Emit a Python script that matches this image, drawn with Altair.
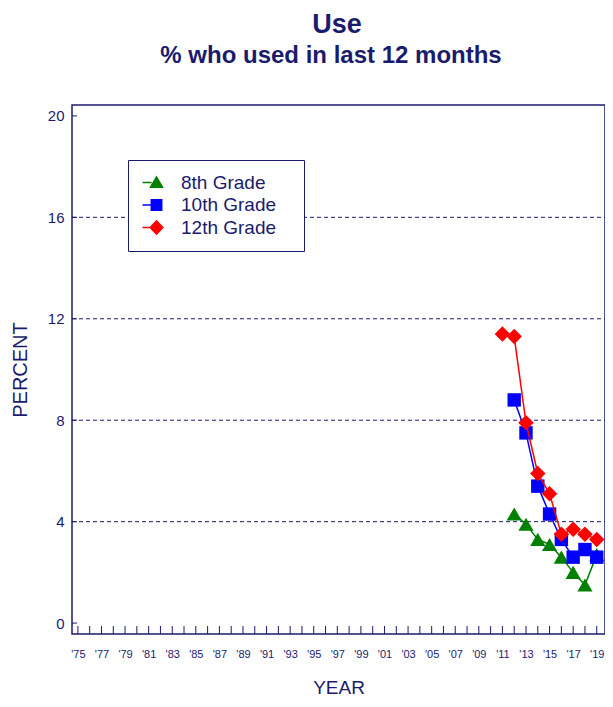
import altair as alt
import pandas as pd

NAVY = "#1b1b6e"
FONT = "Liberation Sans"

# ---- data ----
grades = ["8th Grade", "10th Grade", "12th Grade"]
colors = ["#008000", "#0000ff", "#ff0000"]
shapes = ["triangle-up", "square", "diamond"]
marker_sizes = [230, 180, 240]
# legend symbols: marker plus a short line segment on its left
legend_paths = [
    "M0,-1L1.05,0.8L-1.05,0.8Z M-2,-0.12L-0.7,-0.12L-0.7,0.1L-2,0.1Z",
    "M-0.85,-0.85L0.85,-0.85L0.85,0.85L-0.85,0.85Z M-2,-0.12L-0.85,-0.12L-0.85,0.1L-2,0.1Z",
    "M0,-1.1L1.05,0L0,1.1L-1.05,0Z M-2,-0.12L-1,-0.12L-1,0.1L-2,0.1Z",
]

years_8 = [2012, 2013, 2014, 2015, 2016, 2017, 2018, 2019]
pct_8 = [4.3, 3.9, 3.3, 3.1, 2.6, 2.0, 1.5, 2.7]

years_10 = [2012, 2013, 2014, 2015, 2016, 2017, 2018, 2019]
pct_10 = [8.8, 7.5, 5.4, 4.3, 3.3, 2.6, 2.9, 2.6]

years_12 = [2011, 2012, 2013, 2014, 2015, 2016, 2017, 2018, 2019]
pct_12 = [11.4, 11.3, 7.9, 5.9, 5.1, 3.5, 3.7, 3.5, 3.3]

x_tick_years = list(range(1975, 2020))
x_label_years = list(range(1975, 2020, 2))
y_tick_values = [0, 4, 8, 12, 16, 20]
grid_values = [4, 8, 12, 16]

# ---- tables ----
rows = []
for g, ys, ps in [(grades[0], years_8, pct_8), (grades[1], years_10, pct_10), (grades[2], years_12, pct_12)]:
    for yr, p in zip(ys, ps):
        rows.append({"grade": g, "year": yr, "pct": p})
df = pd.DataFrame(rows)
df_xt = pd.DataFrame({"year": x_tick_years})
df_yt = pd.DataFrame({"pct": y_tick_values})
df_grid = pd.DataFrame({"pct": grid_values})
df_one = pd.DataFrame({"a": [0]})

W, H = 533, 529

xscale = alt.Scale(domain=[1974.5, 2019.7], nice=False, zero=False)
yscale = alt.Scale(domain=[-0.43, 20.43], nice=False, zero=False)

x_axis = alt.Axis(
    values=x_label_years,
    labelExpr="\"'\" + slice(toString(datum.value), 2)",
    title="YEAR",
    titleFontSize=19, titleFontWeight="normal", titleColor=NAVY, titleFont=FONT,
    titlePadding=19,
    labelFontSize=11, labelColor=NAVY, labelFont=FONT, labelPadding=14,
    tickSize=0, domain=False, grid=False,
)
y_axis = alt.Axis(
    values=y_tick_values,
    title="PERCENT",
    titleFontSize=20, titleFontWeight="normal", titleColor=NAVY, titleFont=FONT,
    titlePadding=17,
    labelFontSize=15, labelColor=NAVY, labelFont=FONT, labelPadding=8,
    tickSize=0, domain=False, grid=False,
)

X = alt.X("year:Q", scale=xscale, axis=x_axis)
Y = alt.Y("pct:Q", scale=yscale, axis=y_axis)

grid = alt.Chart(df_grid).mark_rule(color=NAVY, strokeWidth=1, strokeDash=[4, 3]).encode(
    y=Y, x=alt.value(0), x2=alt.value(W)
)
yticks = alt.Chart(df_yt).mark_rule(color=NAVY, strokeWidth=1).encode(
    y=Y, x=alt.value(0), x2=alt.value(5)
)
xticks = alt.Chart(df_xt).mark_rule(color=NAVY, strokeWidth=1).encode(
    x=X, y=alt.value(H - 8), y2=alt.value(H)
)

layers = [grid, yticks, xticks]
for g, c, s, sz in zip(grades, colors, shapes, marker_sizes):
    sub = alt.Chart(df).transform_filter(alt.datum.grade == g)
    layers.append(sub.mark_line(strokeWidth=1.5, color=c).encode(x=X, y=Y))
    layers.append(
        sub.mark_point(filled=True, opacity=1, size=sz, shape=s, color=c).encode(x=X, y=Y)
    )

leg = alt.Legend(
    orient="none", legendX=56, legendY=55, title=None,
    strokeColor=NAVY, fillColor="white", padding=13,
    labelFontSize=19, labelColor=NAVY, labelFont=FONT,
    symbolSize=196, symbolStrokeWidth=0, symbolOffset=6, labelOffset=15, rowPadding=2.5,
    labelExpr="datum.label + '\u2800'",
)
legend_layer = alt.Chart(df).transform_filter("false").mark_point(filled=True, opacity=1).encode(
    x=X, y=Y,
    color=alt.Color("grade:N", scale=alt.Scale(domain=grades, range=colors), legend=leg),
    shape=alt.Shape("grade:N", scale=alt.Scale(domain=grades, range=legend_paths), legend=leg),
)
layers.append(legend_layer)

title1 = alt.Chart(df_one).mark_text(
    text="Use", font=FONT, fontSize=27, fontWeight="bold", color=NAVY, baseline="alphabetic"
).encode(x=alt.value(265), y=alt.value(-72))
title2 = alt.Chart(df_one).mark_text(
    text="% who used in last 12 months", font=FONT, fontSize=24, fontWeight="bold",
    color=NAVY, baseline="alphabetic"
).encode(x=alt.value(259), y=alt.value(-42))
layers += [title1, title2]

chart = alt.layer(*layers).properties(
    width=W, height=H,
    autosize=alt.AutoSizeParams(type="none"),
    padding={"left": 64, "top": 97, "right": 0, "bottom": 64},
).configure_view(stroke=NAVY, strokeWidth=1.5)

chart.save("out.html", embed_options={"renderer": "svg", "actions": False})
